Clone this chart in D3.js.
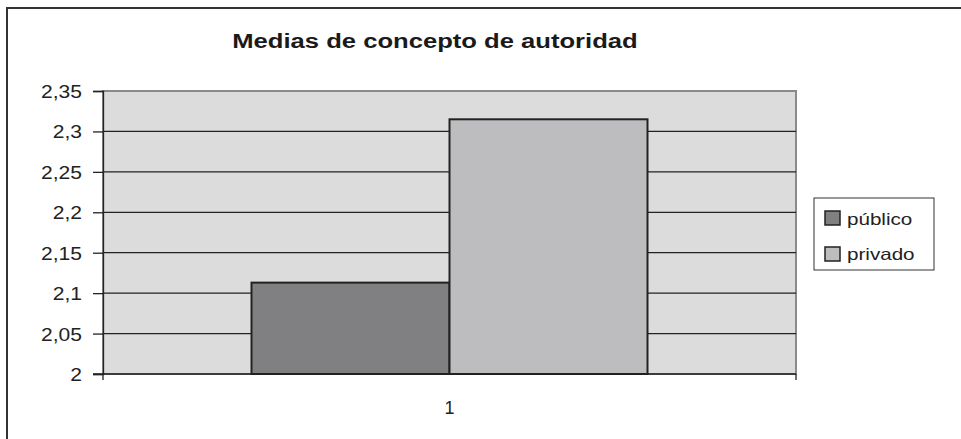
<!DOCTYPE html>
<html><head><meta charset="utf-8">
<script src="https://cdn.jsdelivr.net/npm/d3@7"></script>
<style>body{margin:0;background:#fff;}svg{display:block;font-family:Arial,"Liberation Sans",sans-serif;}</style>
</head><body>
<svg id="c" width="961" height="439"></svg>
<script>
const title = "Medias de concepto de autoridad";
const categories = ["1"];
const seriesNames = ["público", "privado"];
const publicoValues = [2.113];
const privadoValues = [2.315];
const yTicks = [2, 2.05, 2.1, 2.15, 2.2, 2.25, 2.3, 2.35];
const colors = ["#808083", "#bdbdc0"];

const FONT = "Arial, 'Liberation Sans', sans-serif";
const svg = d3.select("#c");
// outer frame
svg.append("path").attr("d", "M7,440 V8 H962").attr("fill", "none").attr("stroke", "#333").attr("stroke-width", 2);

const m = {left: 103, right: 796, top: 91, bottom: 374};
const x = d3.scaleBand().domain(categories).range([m.left, m.right]);
const xs = d3.scaleBand().domain(seriesNames).range([0, x.bandwidth()]).paddingInner(0).paddingOuter(0.75);
const y = d3.scaleLinear().domain([2, 2.35]).range([m.bottom, m.top]);

svg.append("rect").attr("x", m.left).attr("y", m.top).attr("width", m.right - m.left).attr("height", m.bottom - m.top)
  .attr("fill", "#dcdcdd").attr("stroke", "#8a8a8a").attr("stroke-width", 2);

// gridlines
svg.append("g").selectAll("line").data(yTicks.filter(t => t > 2 && t < 2.35)).join("line")
  .attr("x1", m.left).attr("x2", m.right).attr("y1", d => y(d)).attr("y2", d => y(d))
  .attr("stroke", "#222").attr("stroke-width", 1.3);

const data = categories.map((c, i) => ({c, vals: [publicoValues[i], privadoValues[i]]}));
const g = svg.append("g");
data.forEach(d => {
  d.vals.forEach((v, j) => {
    g.append("rect").attr("x", x(d.c) + xs(seriesNames[j])).attr("y", y(v))
      .attr("width", xs.bandwidth()).attr("height", y(2) - y(v))
      .attr("fill", colors[j]).attr("stroke", "#222").attr("stroke-width", 2);
  });
});

// y axis
const SX = 1.17;
const yAxis = d3.axisLeft(y).tickValues(yTicks).tickSize(10).tickPadding(11)
  .tickFormat(d => d3.format("")(+d.toFixed(2)).replace(".", ","));
const ya = svg.append("g").attr("transform", `translate(${m.left},0)`).call(yAxis);
ya.select(".domain").attr("stroke", "#222").attr("stroke-width", 1.3);
ya.selectAll(".tick line").attr("stroke", "#222").attr("stroke-width", 1.3);
ya.selectAll("text").attr("font-size", 18).attr("fill", "#222").attr("font-family", FONT)
  .attr("transform", `scale(${SX},1)`).attr("x", -21 / SX).attr("dy", "0.36em");

// x axis
const xAxis = d3.axisBottom(x).tickSize(0).tickPadding(27);
const xa = svg.append("g").attr("transform", `translate(0,${m.bottom})`).call(xAxis);
xa.select(".domain").remove();
xa.selectAll("text").attr("font-size", 18).attr("fill", "#222").attr("font-family", FONT);
svg.append("line").attr("x1", m.left - 10).attr("x2", m.right).attr("y1", m.bottom).attr("y2", m.bottom).attr("stroke", "#222").attr("stroke-width", 1.3);
[m.left, m.right].forEach(xx => svg.append("line").attr("x1", xx).attr("x2", xx).attr("y1", m.bottom).attr("y2", m.bottom + 6).attr("stroke", "#222").attr("stroke-width", 1.3));

// title
svg.append("text").attr("transform", "translate(435,48) scale(1.22,1)").attr("text-anchor", "middle")
  .attr("font-size", 21).attr("font-weight", "bold").attr("fill", "#1a1a1a").text(title);

// legend
const lg = svg.append("g");
lg.append("rect").attr("x", 814).attr("y", 198).attr("width", 120).attr("height", 72)
  .attr("fill", "#fff").attr("stroke", "#333").attr("stroke-width", 1);
seriesNames.forEach((s, i) => {
  lg.append("rect").attr("x", 825).attr("y", 211 + i * 36).attr("width", 15).attr("height", 14)
    .attr("fill", colors[i]).attr("stroke", "#222").attr("stroke-width", 1.5);
  lg.append("text").attr("transform", `translate(847,${225 + i * 35}) scale(1.25,1)`)
    .attr("font-size", 16.5).attr("fill", "#222").text(s);
});
</script>
</body></html>
